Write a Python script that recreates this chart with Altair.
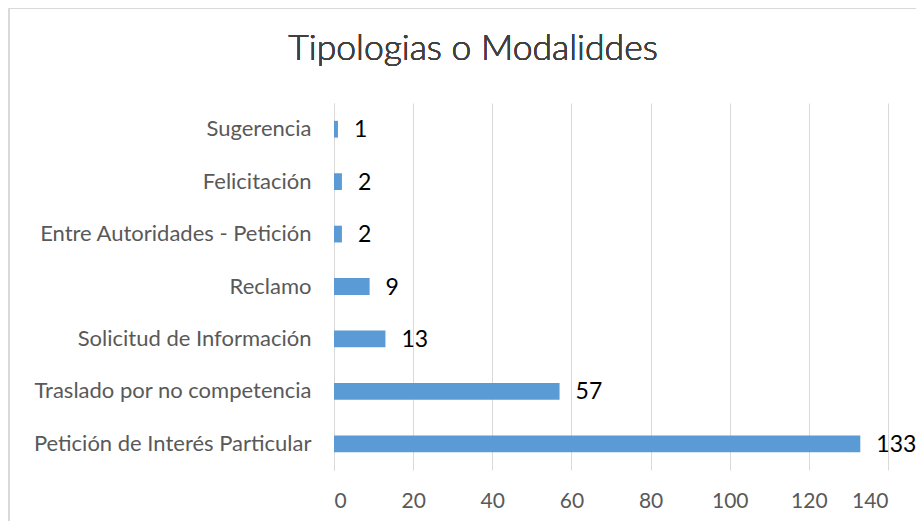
import altair as alt
import pandas as pd

categories = [
    "Sugerencia",
    "Felicitación",
    "Entre Autoridades - Petición",
    "Reclamo",
    "Solicitud de Información",
    "Traslado por no competencia",
    "Petición de Interés Particular",
]
values = [1, 2, 2, 9, 13, 57, 133]
x_ticks = [0, 20, 40, 60, 80, 100, 120, 140]
title_text = "Tipologias o Modaliddes"

df = pd.DataFrame({"cat": categories, "val": values})

FONT = "Lato"

x_enc = alt.X(
    "val:Q",
    scale=alt.Scale(domain=[0, 140], nice=False),
    axis=alt.Axis(
        values=x_ticks, title=None, domain=False, ticks=False,
        grid=True, gridColor="#d9d9d9", labelPadding=20,
        labelFontSize=21, labelColor="#595959", labelFont=FONT,
    ),
)
y_enc = alt.Y(
    "cat:N",
    sort=categories,
    scale=alt.Scale(paddingInner=0.68, paddingOuter=0.34),
    axis=alt.Axis(
        title=None, ticks=False, domain=True, domainColor="#d9d9d9",
        labelPadding=23, labelFontSize=22, labelColor="#595959",
        labelFont=FONT, labelLimit=400,
    ),
)

border = alt.Chart(df).mark_rect(
    fill=None, stroke="#d9d9d9", strokeWidth=1
).encode(
    x=alt.value(-325), x2=alt.value(700),
    y=alt.value(-94.5), y2=alt.value(600),
)

title = alt.Chart(df).mark_text(
    align="center", baseline="alphabetic", fontSize=35.5, font=FONT,
    fontWeight=300, color="#404040",
).encode(
    x=alt.value(139), y=alt.value(-43), text=alt.value(title_text)
)

bars = alt.Chart(df).mark_bar(color="#5B9BD5").encode(x=x_enc, y=y_enc)

labels = alt.Chart(df).mark_text(
    align="left", baseline="middle", dx=16, dy=1, fontSize=23,
    fontWeight="normal", color="#000000", font=FONT,
).encode(x="val:Q", y=alt.Y("cat:N", sort=categories), text="val:Q")

chart = alt.layer(border, title, bars, labels).properties(
    width=554,
    height=367,
    autosize=alt.AutoSizeParams(type="none"),
    padding={"left": 326, "top": 95, "right": 28, "bottom": 51},
).configure_view(stroke=None)

chart.save("out.html", embed_options={"renderer": "svg", "actions": False})
